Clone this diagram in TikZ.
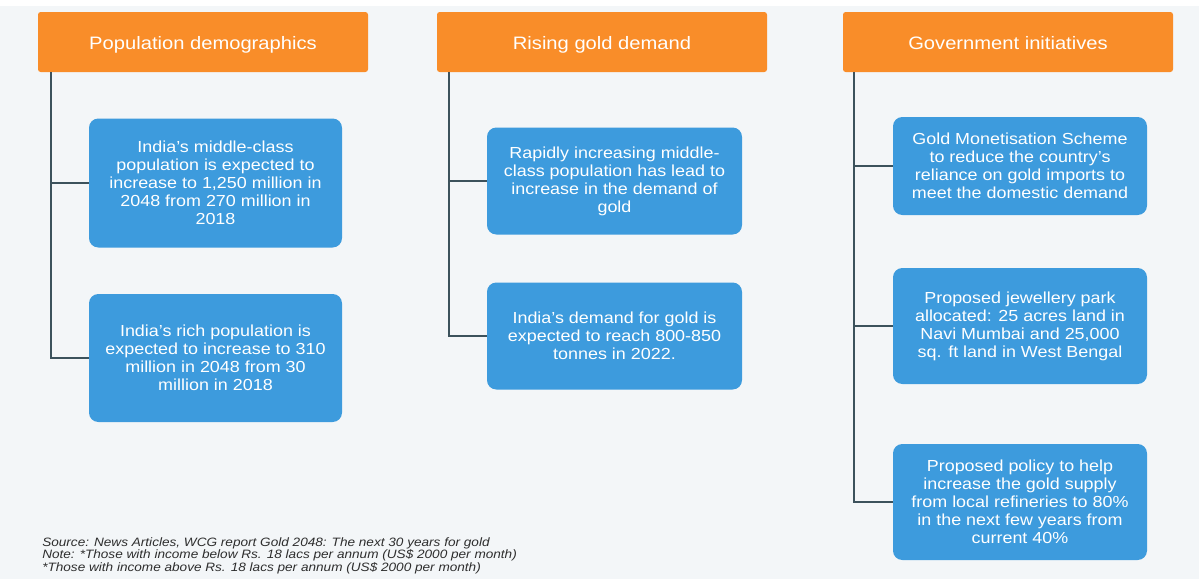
\documentclass[tikz,border=0pt]{standalone}
\usepackage{fontspec}
\setmainfont{Liberation Sans}[FakeStretch=1.12]
\usetikzlibrary{positioning}

\definecolor{hdrorange}{HTML}{F98D29}
\definecolor{boxblue}{HTML}{3D9BDD}
\definecolor{pagebg}{HTML}{F3F6F8}
\definecolor{linegrey}{HTML}{3C525C}
\definecolor{notegrey}{HTML}{2E2E2E}

\begin{document}
\begin{tikzpicture}[x=0.75pt,y=-0.75pt,
    header/.style={fill=hdrorange,rounded corners=2pt,minimum width=247.5pt,minimum height=45pt,
      inner sep=0pt,text height=10.5pt,text depth=0pt,text=white,font=\fontsize{13.5}{16}\selectfont},
    infobox/.style={fill=boxblue,rounded corners=7pt,text=white,align=center,inner sep=0pt,
      font=\fontsize{12}{13.5}\selectfont},
    link/.style={draw=linegrey,line width=1.2pt}]
          \useasboundingbox (0,0) rectangle (1199,579);
          \fill[white] (0,0) rectangle (1199,6);
          \fill[pagebg] (0,6) rectangle (1199,579);

          % column headers
          \node[header] (hdrPop) at (203,42) {Population demographics};
          \node[header] (hdrGold) at (602,42) {Rising gold demand};
          \node[header] (hdrGov) at (1008,42) {Government initiatives};

          % population demographics
          \node[infobox,minimum width=189.75pt,minimum height=96.75pt] (popMid) at (215.5,183)
            {India's middle-class\\population is expected to\\increase to 1,250 million in\\2048 from 270 million in\\2018};
          \node[infobox,minimum width=189.75pt,minimum height=96pt] (popRich) at (215.5,358)
            {India's rich population is\\expected to increase to 310\\million in 2048 from 30\\million in 2018};

          \coordinate (spinePop) at ([xshift=9.75pt]hdrPop.south west);
          \draw[link] (spinePop) |- (popRich.west);
          \draw[link] (spinePop |- popMid.west) -- (popMid.west);

          % rising gold demand
          \node[infobox,minimum width=191.25pt,minimum height=80.25pt] (goldMid) at (614.5,181)
            {Rapidly increasing middle-\\class population has lead to\\increase in the demand of\\gold};
          \node[infobox,minimum width=191.25pt,minimum height=80.25pt] (goldTon) at (614.5,336)
            {India's demand for gold is\\expected to reach 800-850\\tonnes in 2022.};

          \coordinate (spineGold) at ([xshift=9pt]hdrGold.south west);
          \draw[link] (spineGold) |- (goldTon.west);
          \draw[link] (spineGold |- goldMid.west) -- (goldMid.west);

          % government initiatives
          \node[infobox,minimum width=190.5pt,minimum height=73.5pt] (govScheme) at (1020,166)
            {Gold Monetisation Scheme\\to reduce the country's\\reliance on gold imports to\\meet the domestic demand};
          \node[infobox,minimum width=190.5pt,minimum height=87pt] (govPark) at (1020,326)
            {Proposed jewellery park\\allocated: 25 acres land in\\Navi Mumbai and 25,000\\sq. ft land in West Bengal};
          \node[infobox,minimum width=190.5pt,minimum height=87pt] (govPolicy) at (1020,502)
            {Proposed policy to help\\increase the gold supply\\from local refineries to 80\%\\in the next few years from\\current 40\%};

          \coordinate (spineGov) at ([xshift=8.25pt]hdrGov.south west);
          \draw[link] (spineGov) |- (govPolicy.west);
          \draw[link] (spineGov |- govScheme.west) -- (govScheme.west);
          \draw[link] (spineGov |- govPark.west) -- (govPark.west);

          % source note
          \node[anchor=north west,align=left,inner sep=0pt,text=notegrey,
                font=\fontsize{9.1}{9.4}\selectfont\itshape] (srcNote) at (42,537)
            {Source: News Articles, WCG report Gold 2048: The next 30 years for gold\\
             Note: *Those with income below Rs. 18 lacs per annum (US\$ 2000 per month)\\
             *Those with income above Rs. 18 lacs per annum (US\$ 2000 per month)};
        \end{tikzpicture}
\end{document}
